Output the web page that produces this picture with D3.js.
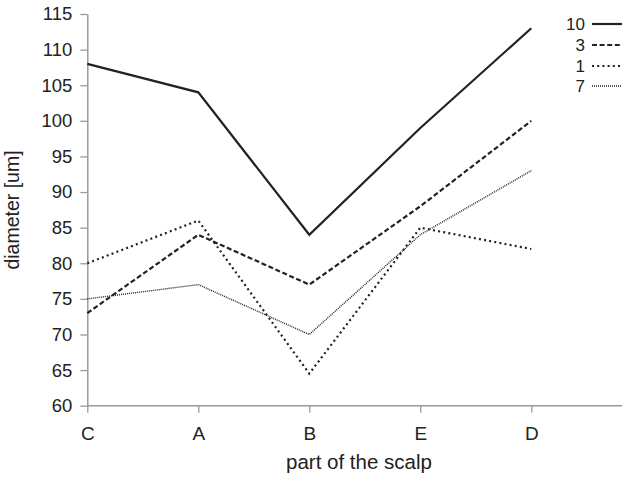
<!DOCTYPE html>
<html>
<head>
<meta charset="utf-8">
<script src="https://cdn.jsdelivr.net/npm/d3@7"></script>
<style>
  body { margin: 0; background: #fff; }
  text { font-family: "Liberation Sans", Arial, sans-serif; fill: #222; }
</style>
</head>
<body>
<svg id="chart" width="622" height="479"></svg>
<script>
    // data
    const parts = ['C', 'A', 'B', 'E', 'D']
    const s10 = [108, 104, 84, 99, 113]
    const s3 = [73, 84, 77, 88, 100]
    const s1 = [80, 86, 64.5, 85, 82]
    const s7 = [75, 77, 70, 84, 93]
    const seriesNames = ['10', '3', '1', '7']
    const yTicks = [60, 65, 70, 75, 80, 85, 90, 95, 100, 105, 110, 115]

    const series = [
        { name: '10', values: s10, dash: null, width: 2.2 },
        { name: '3', values: s3, dash: '5,2.6', width: 2.2 },
        { name: '1', values: s1, dash: '2,3.2', width: 2.2 },
        { name: '7', values: s7, dash: '1,1', width: 1.4 }
    ]

    const svg = d3.select('#chart')
    const axisColor = '#9a9a9a'
    const lineColor = '#222'

    const x = d3.scalePoint().domain(parts).range([87.3, 531.3])
    const y = d3.scaleLinear().domain([60, 115]).range([405.7, 14])

    // y axis
    const gy = svg.append('g')
        .attr('transform', 'translate(87.3,0)')
        .call(d3.axisLeft(y).tickValues(yTicks).tickSize(7).tickSizeOuter(0).tickPadding(8))
    gy.select('.domain').attr('stroke', axisColor).attr('stroke-width', 1.5)
    gy.selectAll('.tick line').attr('stroke', axisColor).attr('stroke-width', 1.3)
    gy.selectAll('.tick text').attr('font-size', 18.5).attr('fill', '#222')
        .style('font-family', '"Liberation Sans", Arial, sans-serif')

    // x axis
    const gx = svg.append('g')
        .attr('transform', 'translate(0,405.7)')
        .call(d3.axisBottom(x).tickSize(7).tickSizeOuter(0).tickPadding(14))
    gx.select('.domain').attr('d', 'M87.3,0H640').attr('stroke', axisColor).attr('stroke-width', 1.5)
    gx.selectAll('.tick line').attr('stroke', axisColor).attr('stroke-width', 1.3)
    gx.selectAll('.tick text').attr('font-size', 19).attr('fill', '#222')
        .style('font-family', '"Liberation Sans", Arial, sans-serif')

    // axis titles
    svg.append('text')
        .attr('x', 359).attr('y', 469)
        .attr('text-anchor', 'middle')
        .attr('font-size', 20.5)
        .text('part of the scalp')

    svg.append('text')
        .attr('transform', 'translate(19,210) rotate(-90)')
        .attr('text-anchor', 'middle')
        .attr('font-size', 19.5)
        .text('diameter [um]')

    // lines
    const line = d3.line()
        .x((d, i) => x(parts[i]))
        .y(d => y(d))

    svg.selectAll('path.series')
        .data(series)
        .enter().append('path')
        .attr('class', 'series')
        .attr('d', d => line(d.values))
        .attr('fill', 'none')
        .attr('stroke', lineColor)
        .attr('stroke-width', d => d.width)
        .attr('stroke-dasharray', d => d.dash)

    // legend
    const legendY = [24, 45, 66, 86]
    const lg = svg.selectAll('g.legend')
        .data(series)
        .enter().append('g')
        .attr('class', 'legend')
        .attr('transform', (d, i) => `translate(0,${legendY[i]})`)
    lg.append('text')
        .attr('x', 585).attr('dy', '0.35em')
        .attr('text-anchor', 'end')
        .attr('font-size', 17)
        .text((d, i) => seriesNames[i])
    lg.append('line')
        .attr('x1', 592).attr('x2', 624)
        .attr('stroke', lineColor)
        .attr('stroke-width', d => d.width)
        .attr('stroke-dasharray', d => d.dash)
</script>
</body>
</html>
